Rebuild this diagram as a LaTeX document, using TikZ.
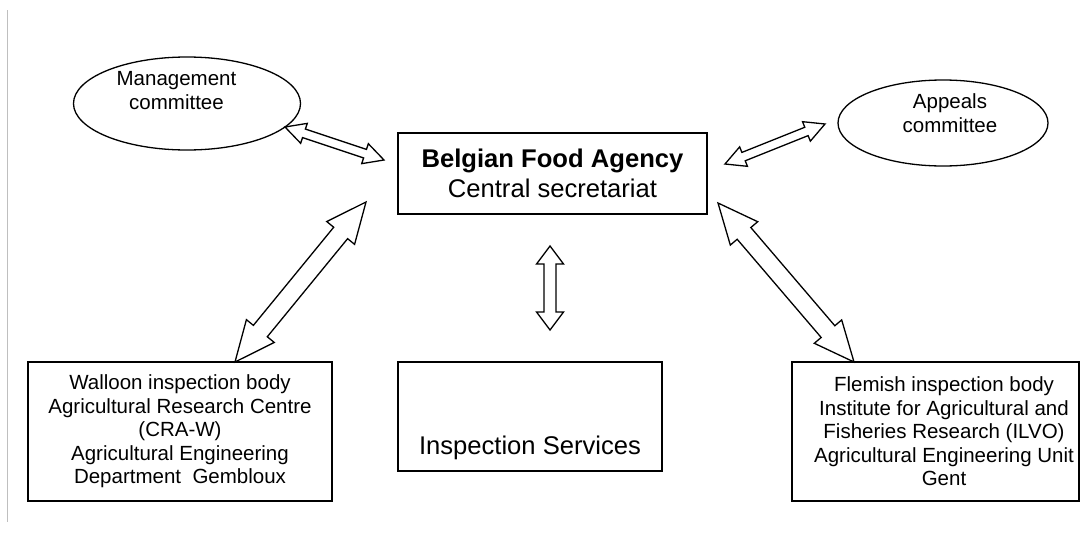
\documentclass[tikz,border=0pt]{standalone}
\usepackage{fontspec}
\setmainfont{Liberation Sans}
\usetikzlibrary{calc,shapes.geometric}
\newcommand\blockarrow[5]{% #1 from, #2 to, #3 head length, #4 head half width, #5 shaft half width
  \draw[barrow] let \p1=(#1), \p2=(#2), \n1={atan2(\y2-\y1,\x2-\x1)} in
    (\p1) -- ($(\p1)+(\n1:#3)+({\n1+90}:#4)$) -- ($(\p1)+(\n1:#3)+({\n1+90}:#5)$)
    -- ($(\p2)+({\n1+180}:#3)+({\n1+90}:#5)$) -- ($(\p2)+({\n1+180}:#3)+({\n1+90}:#4)$) -- (\p2)
    -- ($(\p2)+({\n1+180}:#3)+({\n1-90}:#4)$) -- ($(\p2)+({\n1+180}:#3)+({\n1-90}:#5)$)
    -- ($(\p1)+(\n1:#3)+({\n1-90}:#5)$) -- ($(\p1)+(\n1:#3)+({\n1-90}:#4)$) -- cycle;
}
\begin{document}
\begin{tikzpicture}[x=1pt,y=-1pt,
  box/.style={draw, line width=1.6pt, rectangle, inner sep=0pt},
  oval/.style={draw, line width=1.3pt, ellipse, inner sep=0pt},
  small/.style={align=center, inner sep=0pt, font=\fontsize{20.5}{23.5}\selectfont},
  big/.style={align=center, inner sep=0pt, font=\fontsize{25.6}{30}\selectfont},
  barrow/.style={draw, line width=1.3pt, fill=white, line join=miter},
  margin/.style={draw=black!25, line width=1pt}
]
\useasboundingbox (0,0) rectangle (1081,533);
% margin line
\coordinate (mtop) at (7,10);
\coordinate (mbot) at (7,522);
\draw[margin] (mtop) -- (mbot);

% ellipses
\node[oval, minimum width=227pt, minimum height=93pt] (mgmt) at (187,103.5) {};
\node[small] (mgmttxt) at (176.5,90.7) {Management\\committee};
\node[oval, minimum width=210pt, minimum height=86pt] (appeals) at (943,123) {};
\node[small] (apptxt) at (950,113) {Appeals\\committee};

% central box
\node[box, big, minimum width=309pt, minimum height=81pt] (bfa) at (552.5,173.5)
  {{\bfseries Belgian Food Agency}\\Central secretariat};

% bottom boxes
\node[box, small, minimum width=304pt, minimum height=139pt] (wal) at (180,431.5)
  {Walloon inspection body\\Agricultural Research Centre\\(CRA-W)\\Agricultural Engineering\\Department\ \ Gembloux};
\node[box, minimum width=264pt, minimum height=109pt] (insp) at (530,416.5) {};
\node[big, anchor=base] (insptxt) at (530,454) {Inspection Services};
\node[box, minimum width=287pt, minimum height=139pt] (flem) at (935.5,431.5) {};
\node[small] (flemtxt) at (944,431.3)
  {Flemish inspection body\\Institute for Agricultural and\\Fisheries Research (ILVO)\\Agricultural Engineering Unit\\Gent};

% arrow end points
\coordinate (a1) at (285,127);
\coordinate (a2) at (384,160);
\coordinate (b1) at (725,164);
\coordinate (b2) at (825,124);
\coordinate (c1) at (366,202);
\coordinate (c2) at (235,362);
\coordinate (d1) at (718,203);
\coordinate (d2) at (854,362);
\coordinate (e1) at (550,246);
\coordinate (e2) at (550,330);

\blockarrow{a1}{a2}{20pt}{10.5pt}{4.5pt}
\blockarrow{b1}{b2}{20pt}{10.5pt}{4.5pt}
\blockarrow{c1}{c2}{40pt}{18pt}{9pt}
\blockarrow{d1}{d2}{40pt}{18pt}{9pt}
\blockarrow{e1}{e2}{18pt}{13.5pt}{6pt}
\end{tikzpicture}
\end{document}
